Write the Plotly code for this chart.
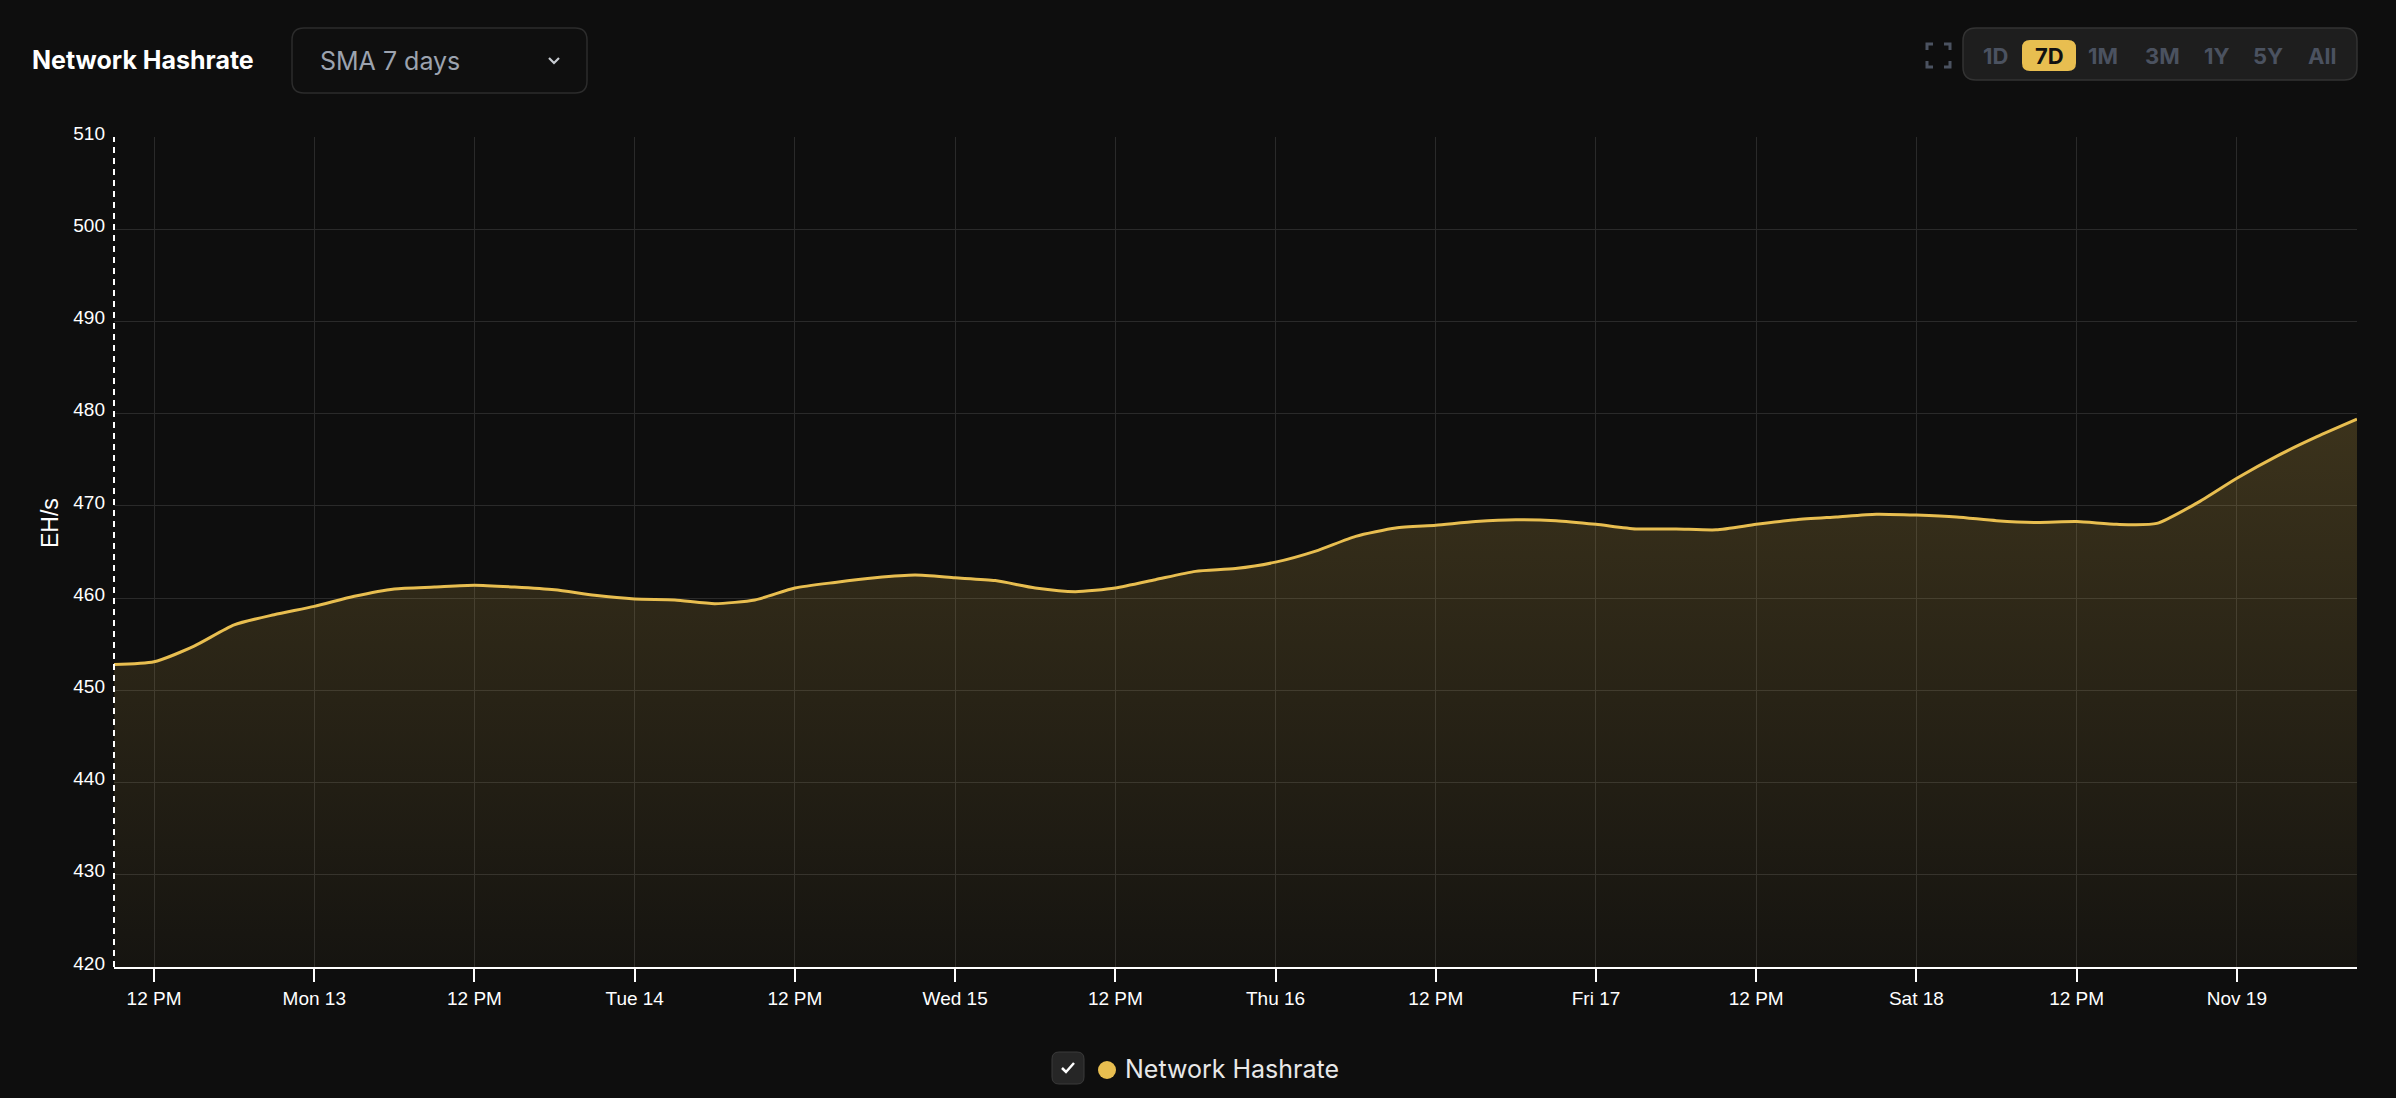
import plotly.graph_objects as go
import pandas as pd

# ---------------- data (3-hour steps) ----------------
start_time = "2023-11-12 09:00"
step_hours = 3
hashrate = [
    452.8, 453.1, 454.8, 457.1, 458.2, 459.1, 460.2, 461.0, 461.2, 461.4,
    461.2, 460.9, 460.3, 459.9, 459.8, 459.4, 459.8, 461.1, 461.7, 462.2,
    462.5, 462.2, 461.9, 461.1, 460.7, 461.1, 462.0, 462.9, 463.2, 463.9,
    465.1, 466.7, 467.6, 467.9, 468.3, 468.5, 468.4, 468.0, 467.5, 467.5,
    467.4, 468.0, 468.5, 468.8, 469.1, 469.0, 468.8, 468.4, 468.2, 468.3,
    468.0, 468.1, 470.3, 473.0, 475.4, 477.5, 479.4,
]
times = pd.date_range(start_time, periods=len(hashrate), freq=f"{step_hours}h")

x_tick_vals = pd.date_range("2023-11-12 12:00", "2023-11-19 00:00", freq="12h")
x_tick_text = ["12 PM", "Mon 13", "12 PM", "Tue 14", "12 PM", "Wed 15", "12 PM",
               "Thu 16", "12 PM", "Fri 17", "12 PM", "Sat 18", "12 PM", "Nov 19"]
y_ticks = [420, 430, 440, 450, 460, 470, 480, 490, 500, 510]
range_buttons = ["1D", "7D", "1M", "3M", "1Y", "5Y", "All"]
active_button = "7D"
series_name = "Network Hashrate"

# ---------------- geometry helpers ----------------
W, H = 2396, 1098
L, R, T, B = 114, 2357, 137, 967


def px(x):
    return (x - L) / (R - L)


def py(y):
    return (B - y) / (B - T)


def rrect(x0, y0, x1, y1, r):
    pts = [
        f"M {px(x0 + r)} {py(y0)}",
        f"L {px(x1 - r)} {py(y0)}",
        f"Q {px(x1)} {py(y0)} {px(x1)} {py(y0 + r)}",
        f"L {px(x1)} {py(y1 - r)}",
        f"Q {px(x1)} {py(y1)} {px(x1 - r)} {py(y1)}",
        f"L {px(x0 + r)} {py(y1)}",
        f"Q {px(x0)} {py(y1)} {px(x0)} {py(y1 - r)}",
        f"L {px(x0)} {py(y0 + r)}",
        f"Q {px(x0)} {py(y0)} {px(x0 + r)} {py(y0)}",
        "Z",
    ]
    return " ".join(pts)


BG = "#0e0e0e"
GOLD = "#e8be50"
GRID = "#2a2a2a"

fig = go.Figure()
fig.add_trace(go.Scatter(
    x=times, y=hashrate, mode="lines", name=series_name,
    line=dict(color=GOLD, width=3, shape="spline", smoothing=0.6),
    fill="tozeroy",
    fillgradient=dict(type="vertical",
                      colorscale=[[0, "rgba(232,190,80,0.035)"], [1, "rgba(232,190,80,0.21)"]],
                      start=420, stop=480),
    showlegend=False, hoverinfo="skip",
))

shapes = []
annotations = []

# dashed vertical line at left edge
shapes.append(dict(type="line", xref="paper", yref="paper", x0=0, x1=0, y0=0, y1=1,
                   line=dict(color="white", width=2, dash="6px,5px"), layer="above"))

# title
annotations.append(dict(text="<b>Network Hashrate</b>", x=px(30), y=py(60), xref="paper", yref="paper",
                        xanchor="left", yanchor="middle", showarrow=False,
                        font=dict(family="Inter", size=25, color="white")))
# dropdown
shapes.append(dict(type="path", xref="paper", yref="paper", path=rrect(292, 28, 587, 93, 12),
                   line=dict(color="#2c2c2c", width=1.5), fillcolor="#0f0f0f"))
annotations.append(dict(text="SMA 7 days", x=px(318), y=py(61), xref="paper", yref="paper",
                        xanchor="left", yanchor="middle", showarrow=False,
                        font=dict(family="Inter", size=25, color="#9ca3af")))
shapes.append(dict(type="path", xref="paper", yref="paper",
                   path=f"M {px(549)} {py(58)} L {px(554)} {py(63)} L {px(559)} {py(58)}",
                   line=dict(color="#c8ccd2", width=2.2)))

# range selector box
shapes.append(dict(type="path", xref="paper", yref="paper", path=rrect(1963, 28, 2357, 80, 13),
                   line=dict(color="#333333", width=1.5), fillcolor="#1e1e1e"))
btn_x = [1995, 2049, 2103, 2162, 2217, 2268, 2322]
for lab, bx in zip(range_buttons, btn_x):
    if lab == active_button:
        shapes.append(dict(type="path", xref="paper", yref="paper", path=rrect(bx - 27, 40, bx + 27, 71, 8),
                           line=dict(width=0), fillcolor=GOLD))
        col = "#111111"
    else:
        col = "#4b5260"
    annotations.append(dict(text=f"<b>{lab}</b>", x=px(bx), y=py(56), xref="paper", yref="paper",
                            xanchor="center", yanchor="middle", showarrow=False,
                            font=dict(family="Inter", size=22, color=col)))

# fullscreen icon
ix0, ix1, iy0, iy1, arm = 1927, 1950, 44, 67, 6
icon_col = "#4b5260"
for cx, cy, dx, dy in [(ix0, iy0, 1, 1), (ix1, iy0, -1, 1), (ix0, iy1, 1, -1), (ix1, iy1, -1, -1)]:
    shapes.append(dict(type="path", xref="paper", yref="paper",
                       path=f"M {px(cx)} {py(cy + dy * arm)} L {px(cx)} {py(cy)} L {px(cx + dx * arm)} {py(cy)}",
                       line=dict(color=icon_col, width=3)))

# legend (bottom)
shapes.append(dict(type="path", xref="paper", yref="paper", path=rrect(1052, 1052, 1084, 1084, 7),
                   line=dict(color="#3a3a3a", width=1), fillcolor="#262626"))
shapes.append(dict(type="path", xref="paper", yref="paper",
                   path=f"M {px(1062)} {py(1068)} L {px(1066)} {py(1072)} L {px(1074)} {py(1063)}",
                   line=dict(color="white", width=2.5)))
shapes.append(dict(type="circle", xref="paper", yref="paper", x0=px(1098), x1=px(1116),
                   y0=py(1061), y1=py(1079), line=dict(width=0), fillcolor=GOLD))
annotations.append(dict(text=series_name, x=px(1123), y=py(1069), xref="paper", yref="paper",
                        xanchor="left", yanchor="middle", showarrow=False,
                        font=dict(family="Inter", size=25, color="#e8e8e8")))

# y axis title
annotations.append(dict(text="EH/s", x=px(50), y=py(523), xref="paper", yref="paper",
                        xanchor="center", yanchor="middle", showarrow=False, textangle=-90,
                        font=dict(family="Liberation Sans", size=23, color="white")))

fig.update_layout(
    width=W, height=H,
    margin=dict(l=L, r=W - R, t=T, b=H - B),
    paper_bgcolor=BG, plot_bgcolor=BG,
    shapes=shapes, annotations=annotations,
    showlegend=False,
    font=dict(family="Liberation Sans", color="white"),
    xaxis=dict(
        range=[times[0], times[-1]],
        tickvals=x_tick_vals, ticktext=x_tick_text,
        showgrid=True, gridcolor=GRID, gridwidth=1,
        showline=True, linecolor="white", linewidth=1.5,
        ticks="outside", ticklen=13, tickcolor="white", tickwidth=1.5,
        tickfont=dict(family="Liberation Sans", size=19, color="white"),
        zeroline=False, fixedrange=True,
    ),
    yaxis=dict(
        range=[420, 510], tickvals=y_ticks,
        showgrid=True, gridcolor=GRID, gridwidth=1,
        showline=False, ticks="", zeroline=False,
        tickfont=dict(family="Liberation Sans", size=19, color="white"),
        ticklabelstandoff=8, ticklabelshift=-4,
        fixedrange=True,
    ),
)

fig.write_html(
    "out.html",
    config={"displayModeBar": False},
    post_script="document.body.style.margin='0';document.body.style.background='#0e0e0e';",
)
